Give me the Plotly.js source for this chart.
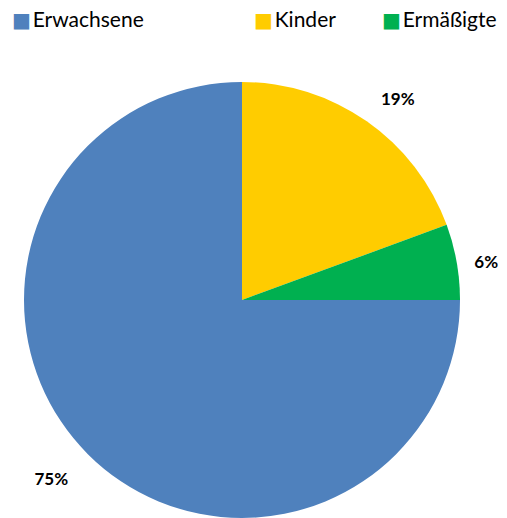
<!DOCTYPE html>
<html>
<head>
<meta charset="utf-8">
<script src="https://cdn.plot.ly/plotly-3.0.1.min.js"></script>
<style>html,body{margin:0;padding:0;background:#fff;overflow:hidden;}</style>
</head>
<body>
<div id="chart" style="width:507px;height:518px;"></div>
<script>
const categories = ['Erwachsene', 'Kinder', 'Ermäßigte'];
const shares = [75, 19.4, 5.6];
const colors = ['#4F81BD', '#FFCC00', '#00B050'];

// layout-only: horizontal start of each legend entry (container px)
const legendX = [10, 252, 380];
const NB = '\u00a0';

const trace = {
  type: 'pie',
  labels: categories,
  values: shares,
  sort: false,
  direction: 'clockwise',
  rotation: 90,
  marker: {colors: colors, line: {width: 0}},
  texttemplate: [
    '<span style="font-size:20px">' + NB + '</span><br>%{percent:.0%}' + NB.repeat(2),
    NB + '%{percent:.0%}<br><span style="font-size:3px">' + NB + '</span>',
    NB.repeat(3) + '%{percent:.0%}'
  ],
  textposition: 'outside',
  outsidetextfont: {family: 'Lato, "Open Sans", sans-serif', size: 17, color: '#000', weight: 'bold'},
  hoverinfo: 'label+percent',
  showlegend: false,
  domain: {x: [0, 1], y: [0, 1]}
};

const annotations = categories.map((c, i) => ({
  xref: 'paper', yref: 'paper',
  x: (legendX[i] - 24) / 436, y: 1 + (82 - 4) / 436,
  xanchor: 'left', yanchor: 'top',
  showarrow: false,
  align: 'left',
  text: '<span style="color:' + colors[i] + ';font-family:DejaVu Sans;font-size:20px">■</span><span style="font-size:7px">' + NB + '</span>' + c,
  font: {family: 'Lato, "Open Sans", sans-serif', size: 21, color: '#000'}
}));

const layout = {
  width: 507,
  height: 518,
  margin: {l: 24, r: 47, t: 82, b: 0},
  paper_bgcolor: '#fff',
  showlegend: false,
  annotations: annotations
};

Plotly.newPlot('chart', [trace], layout, {displayModeBar: false, staticPlot: true});
</script>
</body>
</html>
